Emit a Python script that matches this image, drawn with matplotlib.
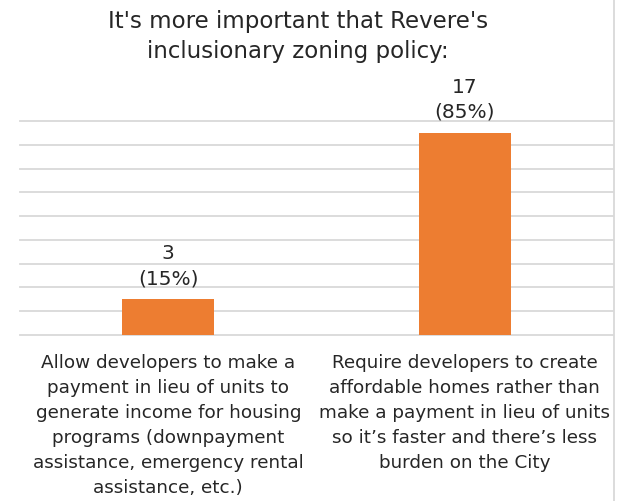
import matplotlib
matplotlib.use("Agg")
import matplotlib.pyplot as plt
from matplotlib.lines import Line2D

TITLE = "It's more important that Revere's\ninclusionary zoning policy:"
categories = [
    "Allow developers to make a\npayment in lieu of units to\ngenerate income for housing\n"
    "programs (downpayment\nassistance, emergency rental\nassistance, etc.)",
    "Require developers to create\naffordable homes rather than\nmake a payment in lieu of units\n"
    "so it\u2019s faster and there\u2019s less\nburden on the City",
]
counts = [3, 17]
percents = [15, 85]

BAR = "#ED7D31"
GRID = "#D9D9D9"
TEXT = "#262626"

plt.rcParams["font.family"] = ["DejaVu Sans"]

W, H = 618, 501
fig = plt.figure(figsize=(W / 100, H / 100), dpi=100)
ax = fig.add_axes([20 / W, 166 / H, (613 - 20) / W, 214 / H])

x = list(range(len(counts)))
ax.bar(x, counts, width=0.31, color=BAR, zorder=3)
ax.set_xlim(-0.5, len(counts) - 0.5)
ax.set_ylim(0, 18)
ax.set_yticks(range(0, 19, 2))
ax.yaxis.grid(True, color=GRID, linewidth=1.3, zorder=0)
for gl in ax.get_ygridlines():
    gl.set_clip_on(False)
ax.tick_params(axis="y", left=False, labelleft=False)
ax.tick_params(axis="x", length=0, pad=13.5)
ax.set_xticks(x)
ax.set_xticklabels(categories, fontsize=13.2, color=TEXT)
for lbl in ax.get_xticklabels():
    lbl.set_linespacing(1.5)
for s in ax.spines.values():
    s.set_visible(False)

for xi, c, p in zip(x, counts, percents):
    ax.annotate(f"{c}\n({p}%)", (xi, c), xytext=(0, 8), textcoords="offset points",
                ha="center", va="bottom", fontsize=14.5, color=TEXT, linespacing=1.4)

fig.text(298 / W, 1 - 10 / H, TITLE, ha="center", va="top", fontsize=16.5,
         color=TEXT, linespacing=1.4)

# chart area border on the right
fig.add_artist(Line2D([613.5 / W, 613.5 / W], [0, 1], color=GRID, linewidth=1.3))

fig.savefig("out.png", dpi=100)
